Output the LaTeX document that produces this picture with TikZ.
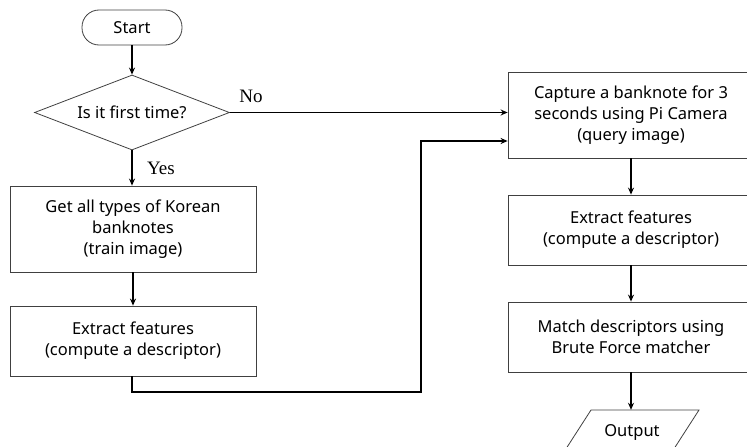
\documentclass[tikz,border=0pt]{standalone}
\usepackage{fontspec}
\setmainfont{Noto Sans}
\newfontfamily\labfont{Liberation Serif}
\usetikzlibrary{shapes.geometric,arrows.meta}
\tikzset{
  txt/.style={font=\fontsize{16.5}{21}\selectfont},
  procbox/.style={txt, draw=black!75, line width=0.8pt, minimum width=246pt, inner sep=0pt, align=center},
  flow/.style={draw=black, line width=1.4pt, -{Stealth[length=7pt,width=6pt]}},
  lab/.style={font=\labfont\fontsize{19}{22}\selectfont}
}
\begin{document}
\begin{tikzpicture}[x=1pt,y=-1pt]
\useasboundingbox (0,0) rectangle (747,447);
\begin{scope}
\clip (0,0) rectangle (747,447);
\node[txt, draw=black!75, line width=0.8pt, rounded corners=17pt, minimum width=100pt, minimum height=35pt, inner sep=0pt] (start) at (132,27.5) {Start};
\node[txt, diamond, aspect=2.6, draw=black!75, line width=0.8pt, minimum width=195pt, minimum height=75pt, inner sep=0pt] (dec) at (132,112.5) {Is it first time?};
\node[procbox, minimum height=86pt] (train) at (133,229) {Get all types of Korean\\banknotes\\(train image)};
\node[procbox, minimum height=70pt] (ext1) at (133,341) {Extract features\\(compute a descriptor)};
\node[procbox, minimum height=86pt] (cap) at (631,115) {Capture a banknote for 3\\seconds using Pi Camera\\(query image)};
\node[procbox, minimum height=70pt] (ext2) at (631,230) {Extract features\\(compute a descriptor)};
\node[procbox, minimum height=70pt] (match) at (631,337) {Match descriptors using\\Brute Force matcher};
\node[txt, minimum height=45pt, inner sep=0pt] (out) at (632,432.5) {Output};
\draw[black!75, line width=0.8pt] (591,410) -- (699,410) -- (670,455) -- (562,455) -- cycle;

\node[lab] (no) at (251,96) {No};
\node[lab] (yes) at (161,168) {Yes};

\coordinate (c1) at (132,392);
\coordinate (c2) at (421,392);
\coordinate (c3) at (421,141);

\draw[flow] (start) -- (dec);
\draw[flow] (dec.south) -- (train.north -| dec.south);
\draw[flow] (train) -- (ext1);
\draw[flow] (dec.east) -- (dec.east -| cap.west);
\draw[flow] (ext1.south -| c1) -- (c1) -- (c2) -- (c3) -- (c3 -| cap.west);
\draw[flow] (cap.south -| 631,0) -- (ext2.north -| 631,0);
\draw[flow] (ext2.south -| 631,0) -- (match.north -| 631,0);
\draw[flow] (match.south -| 631,0) -- (out.north -| 631,0);
\end{scope}
\end{tikzpicture}
\end{document}
